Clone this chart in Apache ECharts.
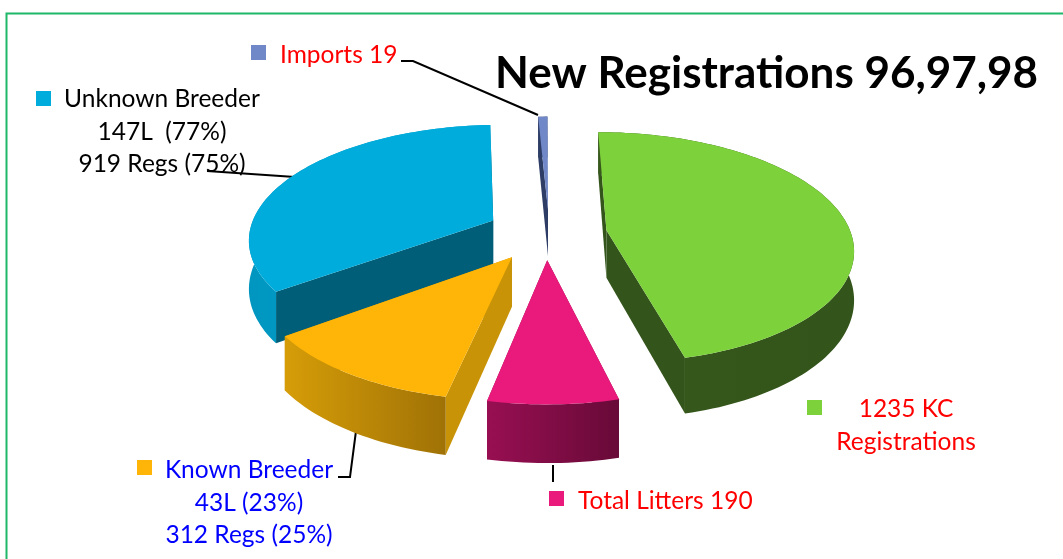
<!DOCTYPE html>
<html>
<head>
<meta charset="utf-8">
<title>New Registrations 96,97,98</title>
<script src="https://cdn.jsdelivr.net/npm/echarts@6/dist/echarts.min.js"></script>
<style>
  html, body { margin: 0; padding: 0; background: #fff; }
  #chart { width: 1063px; height: 559px; }
</style>
</head>
<body>
<div id="chart"></div>
<script>
// slices, in clockwise order, starting with the one drawn furthest back
const sliceNames = ['Unknown Breeder', 'Imports', 'KC Registrations', 'Total Litters', 'Known Breeder']
const sliceValues = [919, 19, 1235, 190, 312]

const titleText = 'New Registrations 96,97,98'
const importsLabel = ['Imports 19']
const unknownLabel = ['Unknown Breeder', '147L  (77%)', '919 Regs (75%)']
const knownLabel = ['Known Breeder', '43L (23%)', '312 Regs (25%)']
const littersLabel = ['Total Litters 190']
const kcLabel = ['1235 KC', 'Registrations']

// look of the tilted pie
const pie = { cx: 548, cy: 235, rx: 245, ry: 114, persp: 0.15, depth: 48, startAngle: 233.6 }
const sliceOffset = [[-0.228, 0.13], [0, 0.23], [0.24, 0.043], [-0.003, -0.215], [-0.143, -0.19]]
const sliceStyle = [
  { top: '#00acdb', cut: '#005e78', wall: ['#0096c0', '#00a4d2'] },
  { top: '#7088c8', cut: '#2e3d66', wall: ['#2e3d66', '#2e3d66'] },
  { top: '#7dd13b', cut: '#33541a', wall: ['#38591c', '#33541a'] },
  { top: '#ea1a7c', cut: '#8a0c4a', wall: ['#980f52', '#680a38'] },
  { top: '#ffb508', cut: '#c89307', wall: ['#d69d08', '#a07206'] }
]

const total = sliceValues.reduce((a, b) => a + b, 0)

const project = (x, y, z) => {
  const s = 1 / (1 + pie.persp * y)
  return [pie.cx + pie.rx * x * s, pie.cy - pie.ry * y * s + z * s]
}

const renderSlice = (params, api) => {
  const i = params.dataIndex
  let before = 0
  for (let k = 0; k < i; k++) before += sliceValues[k]
  const a0 = pie.startAngle + before / total * 360
  const a1 = a0 + api.value(0) / total * 360
  const [ox, oy] = sliceOffset[i]
  const st = sliceStyle[i]

  const steps = Math.max(2, Math.ceil((a1 - a0) / 1.5))
  const rimTop = []
  const rimBottom = []
  for (let k = 0; k <= steps; k++) {
    const a = (a0 + (a1 - a0) * k / steps) * Math.PI / 180
    const x = ox + Math.sin(a)
    const y = oy + Math.cos(a)
    rimTop.push(project(x, y, 0))
    rimBottom.push(project(x, y, pie.depth))
  }
  const apexTop = project(ox, oy, 0)
  const apexBottom = project(ox, oy, pie.depth)

  return {
    type: 'group',
    children: [
      {
        type: 'polygon',
        shape: { points: [apexTop, rimTop[0], rimBottom[0], apexBottom] },
        style: { fill: st.cut }
      },
      {
        type: 'polygon',
        shape: { points: [apexTop, rimTop[steps], rimBottom[steps], apexBottom] },
        style: { fill: st.cut }
      },
      {
        type: 'polygon',
        shape: { points: rimTop.concat(rimBottom.slice().reverse()) },
        style: {
          fill: new echarts.graphic.LinearGradient(0, 0, 1, 0, [
            { offset: 0, color: st.wall[0] },
            { offset: 1, color: st.wall[1] }
          ])
        }
      },
      {
        type: 'polygon',
        shape: { points: [apexTop].concat(rimTop) },
        style: { fill: st.top }
      }
    ]
  }
}

const textLines = (lines, x, y, color, align) => lines.map((text, i) => ({
  type: 'text',
  silent: true,
  style: {
    text,
    x,
    y: y + i * 32.7,
    fill: color,
    font: '24.5px Lato',
    textAlign: align || 'center',
    textVerticalAlign: 'middle'
  }
}))

const marker = (x, y, color) => ({
  type: 'rect',
  silent: true,
  shape: { x, y, width: 15, height: 15 },
  style: { fill: color }
})

const leader = (points) => ({
  type: 'polyline',
  silent: true,
  shape: { points },
  style: { stroke: '#000', lineWidth: 2, fill: null }
})

const chartInstance = echarts.init(document.getElementById('chart'))
chartInstance.setOption({
  animation: false,
  backgroundColor: '#fff',
  series: [
    {
      type: 'custom',
      coordinateSystem: 'none',
      silent: true,
      renderItem: renderSlice,
      data: sliceValues.map((value, i) => ({ name: sliceNames[i], value }))
    }
  ],
  graphic: {
    elements: [
      {
        type: 'polyline',
        silent: true,
        shape: { points: [[6.5, 559], [6.5, 13.5], [1063, 13.5]] },
        style: { stroke: '#1fb868', lineWidth: 2, fill: null }
      },
      {
        type: 'text',
        silent: true,
        z: 10,
        style: {
          text: titleText,
          x: 495,
          y: 74,
          fill: '#000',
          font: 'bold 44px Lato',
          textAlign: 'left',
          textVerticalAlign: 'middle'
        }
      },
      marker(251, 45, '#7088c8'),
      marker(36, 91, '#00acdb'),
      marker(137, 460, '#ffb508'),
      marker(549, 491, '#ea1a7c'),
      marker(807, 400, '#7dd13b'),
      leader([[401, 61], [413, 61], [538, 115]]),
      leader([[207, 171], [295, 177]]),
      leader([[338, 477], [350, 477], [356, 431]]),
      leader([[553, 465], [553, 482]]),
      ...textLines(importsLabel, 280, 55, '#ff0000', 'left'),
      ...textLines(unknownLabel, 162, 99, '#000000'),
      ...textLines(knownLabel, 249, 470, '#0000ff'),
      ...textLines(littersLabel, 578, 501, '#ff0000', 'left'),
      ...textLines(kcLabel, 906, 409, '#ff0000')
    ]
  }
})
</script>
</body>
</html>
